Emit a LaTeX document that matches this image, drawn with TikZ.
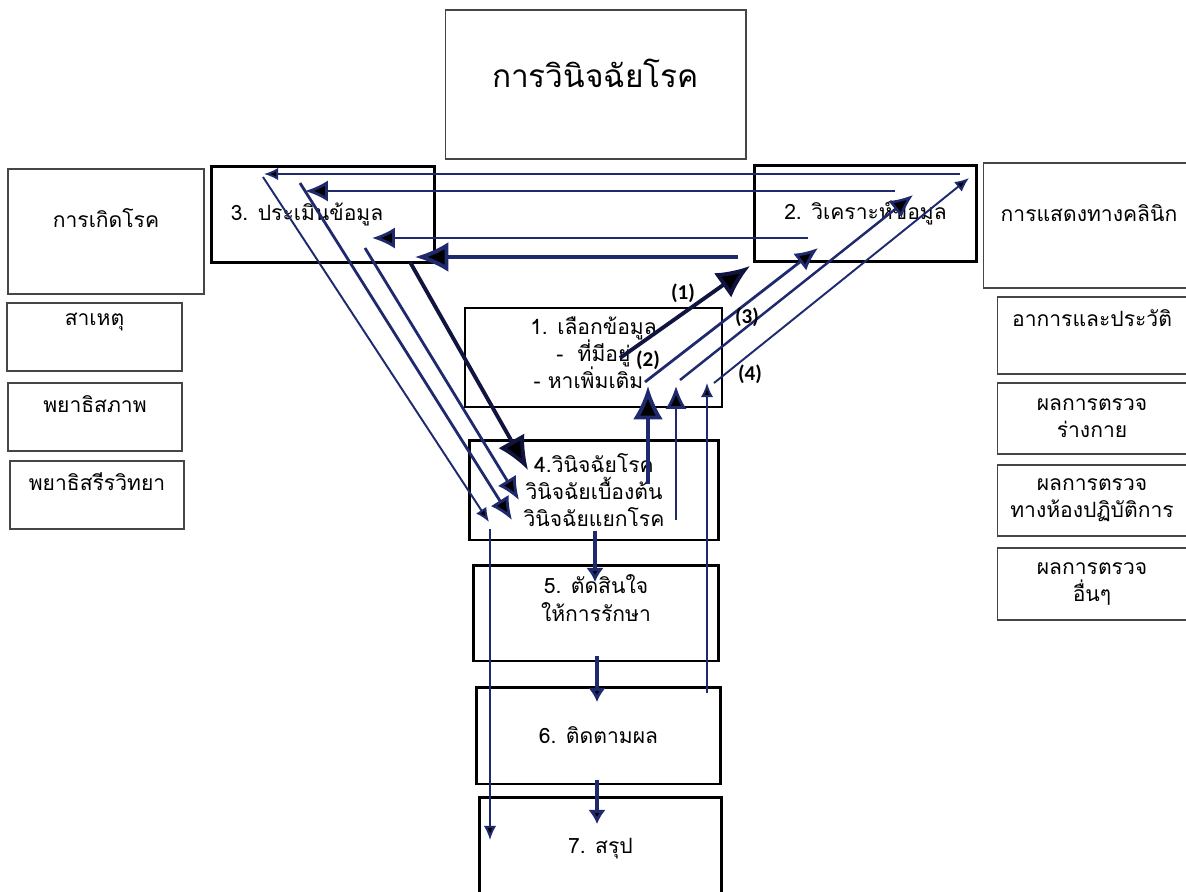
\documentclass[tikz,border=0pt]{standalone}
\usepackage{fontspec}
\setmainfont{Loma}[Script=Thai]
\newfontfamily\numfont{Carlito}
\usetikzlibrary{arrows.meta}

\definecolor{navy}{RGB}{31,42,110}
\definecolor{deepnavy}{RGB}{16,20,62}
\definecolor{framegray}{RGB}{70,70,70}

\tikzset{
  stepbox/.style={draw=black, line width=1.7pt, align=center, inner sep=0pt},
  sidebox/.style={draw=framegray, line width=0.6pt, align=center, inner sep=0pt},
  liftby/.style={text depth=#1},
  thinarr/.style={navy, line width=1.1pt, -{Latex[length=8pt,width=7pt,fill=black]}},
  midarr/.style={navy, line width=1.6pt, -{Latex[length=13pt,width=12pt,fill=black]}},
  bigarr/.style={deepnavy, line width=2.2pt, -{Latex[length=19pt,width=17pt,fill=black]}},
  downarr/.style={navy, line width=2pt, -{Latex[length=8pt,width=10pt,fill=black]}},
  numlbl/.style={font=\numfont\bfseries\large, inner sep=0pt},
}

\begin{document}
\begin{tikzpicture}[x=0.02cm, y=-0.02cm, font=\fontsize{12pt}{15.5pt}\selectfont]
\useasboundingbox (0,0) rectangle (1186,892);

% title
\node[sidebox, minimum width=6.02cm, minimum height=2.98cm, liftby=0.44cm,
      font=\fontsize{18pt}{21pt}\selectfont] (title) at (595.5,84.5) {การวินิจฉัยโรค};

% left column
\node[sidebox, minimum width=3.92cm, minimum height=2.5cm, liftby=0.52cm] (onset) at (106,231.5) {การเกิดโรค};
\node[sidebox, minimum width=3.5cm, minimum height=1.36cm, liftby=0.72cm] (cause) at (94.5,337) {สาเหตุ};
\node[sidebox, minimum width=3.48cm, minimum height=1.36cm, liftby=0.52cm] (patho) at (95,417) {พยาธิสภาพ};
\node[sidebox, minimum width=3.48cm, minimum height=1.36cm, liftby=0.52cm] (physio) at (97,495) {พยาธิสรีรวิทยา};

% right column
\node[sidebox, minimum width=4.24cm, minimum height=2.5cm, liftby=0.48cm] (clinic) at (1089,225.5) {การแสดงทางคลินิก};
\node[sidebox, minimum width=3.8cm, minimum height=1.54cm, liftby=0.68cm] (history) at (1092,335.5) {อาการและประวัติ};
\node[sidebox, minimum width=3.8cm, minimum height=1.42cm] (physical) at (1092,418.5) {ผลการตรวจ\\ร่างกาย};
\node[sidebox, minimum width=3.8cm, minimum height=1.42cm] (lab) at (1092,500.5) {ผลการตรวจ\\ทางห้องปฏิบัติการ};
\node[sidebox, minimum width=3.8cm, minimum height=1.44cm] (other) at (1092,584) {ผลการตรวจ\\อื่นๆ};

% steps
\node[stepbox, minimum width=4.48cm, minimum height=1.94cm] (assess) at (323,214.5) {3. ประเมินข้อมูล\hspace*{0.64cm}};
\node[stepbox, minimum width=4.46cm, minimum height=1.94cm] (analyse) at (865.5,213.5) {2. วิเคราะห์ข้อมูล};
\node[stepbox, line width=1.4pt, minimum width=5.14cm, minimum height=1.98cm, liftby=0.2cm] (select) at (593.5,357.5)
      {1. เลือกข้อมูล\\-~~ที่มีอยู่\\- หาเพิ่มเติม\hspace*{0.2cm}};
\node[stepbox, minimum width=5cm, minimum height=2cm] (diagnose) at (594,490)
      {4.วินิจฉัยโรค\\วินิจฉัยเบื้องต้น\\วินิจฉัยแยกโรค};
\node[stepbox, minimum width=4.92cm, minimum height=1.92cm, liftby=0.6cm] (treat) at (596,613)
      {5. ตัดสินใจ\\ให้การรักษา};
\node[stepbox, minimum width=4.9cm, minimum height=1.94cm] (follow) at (598.5,735.5) {6. ติดตามผล};
\node[stepbox, minimum width=4.86cm, minimum height=2.06cm] (sumup) at (600.5,848.5) {7. สรุป};

% ends of the connectors
\coordinate (h1s) at (960,174);  \coordinate (h1e) at (264,174);
\coordinate (h2s) at (895,191);  \coordinate (h2e) at (305,191);
\coordinate (h3s) at (808,238);  \coordinate (h3e) at (372,238);
\coordinate (h4s) at (738,257);  \coordinate (h4e) at (415,257);
\coordinate (da s) at (263,177); \coordinate (da e) at (489,522);
\coordinate (db s) at (300,183); \coordinate (db e) at (512,520);
\coordinate (dc s) at (365,248); \coordinate (dc e) at (519,500);
\coordinate (dd s) at (410,262); \coordinate (dd e) at (528,470);
\coordinate (u1s) at (620,358);  \coordinate (u1e) at (750,266);
\coordinate (u2s) at (645,382);  \coordinate (u2e) at (818,248);
\coordinate (u3s) at (680,380);  \coordinate (u3e) at (913,195);
\coordinate (u4s) at (714,383);  \coordinate (u4e) at (969,178);
\coordinate (v1s) at (648,484);  \coordinate (v1e) at (648,386);
\coordinate (v2s) at (676,520);  \coordinate (v2e) at (676,386);
\coordinate (v3s) at (707,693);  \coordinate (v3e) at (707,383);
\coordinate (w1s) at (595,531);  \coordinate (w1e) at (595,582);
\coordinate (w2s) at (597,656);  \coordinate (w2e) at (597,702);
\coordinate (w3s) at (597,780);  \coordinate (w3e) at (597,824);
\coordinate (longs) at (490,529); \coordinate (longe) at (490,840);

% back to 3
\draw[thinarr] (h1s) -- (h1e);
\draw[midarr] (h2s) -- (h2e);
\draw[midarr] (h3s) -- (h3e);
\draw[bigarr, navy] (h4s) -- (h4e);

% 3 down to 4
\draw[thinarr] (da s) -- (da e);
\draw[midarr] (db s) -- (db e);
\draw[midarr] (dc s) -- (dc e);
\draw[bigarr] (dd s) -- (dd e);

% up to 2
\draw[bigarr] (u1s) -- (u1e);
\draw[midarr] (u2s) -- (u2e);
\draw[midarr, line width=1.4pt] (u3s) -- (u3e);
\draw[thinarr] (u4s) -- (u4e);

% up to 1
\draw[bigarr, navy] (v1s) -- (v1e);
\draw[midarr] (v2s) -- (v2e);
\draw[thinarr] (v3s) -- (v3e);

% down the steps
\draw[downarr] (w1s) -- (w1e);
\draw[downarr] (w2s) -- (w2e);
\draw[downarr] (w3s) -- (w3e);
\draw[thinarr] (longs) -- (longe);

\node[numlbl] (n1) at (683,293) {(1)};
\node[numlbl] (n2) at (648,360) {(2)};
\node[numlbl] (n3) at (747,317) {(3)};
\node[numlbl] (n4) at (750,374) {(4)};
\end{tikzpicture}
\end{document}
